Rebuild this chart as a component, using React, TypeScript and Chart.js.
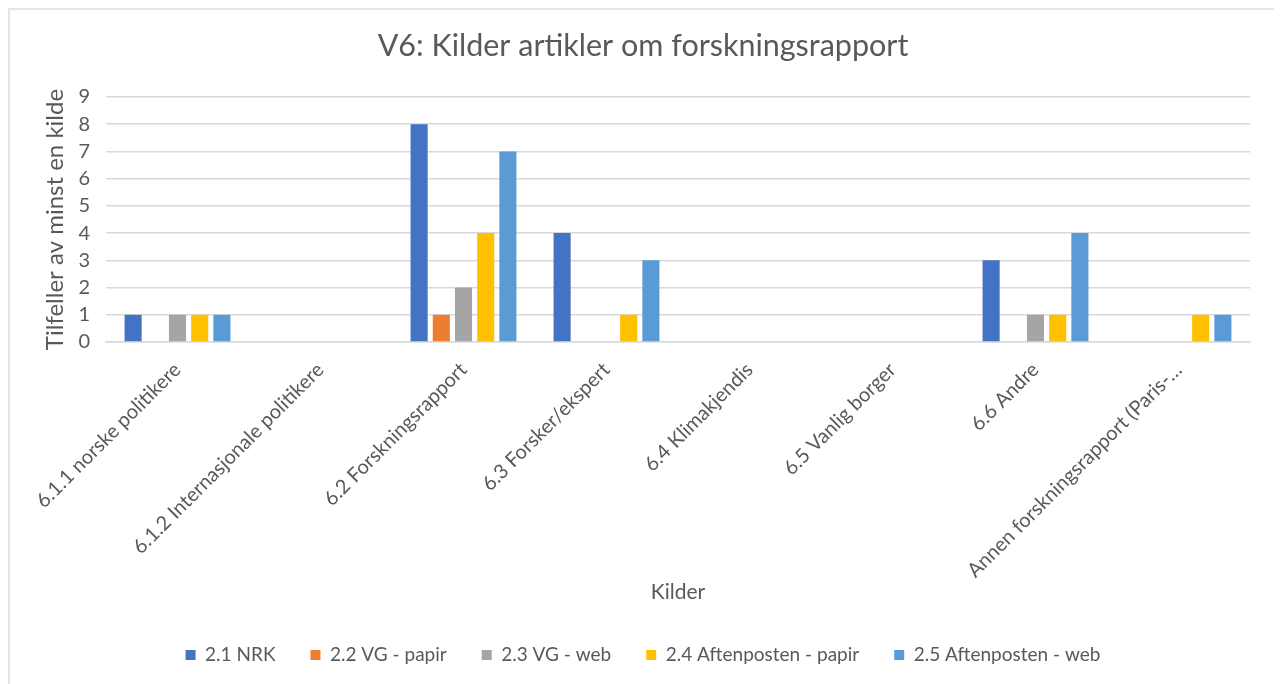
import React, { useEffect, useRef } from "react";
import { Chart, registerables } from "chart.js";

Chart.register(...registerables);

const categories = [
  "6.1.1 norske politikere",
  "6.1.2 Internasjonale politikere",
  "6.2 Forskningsrapport",
  "6.3 Forsker/ekspert",
  "6.4 Klimakjendis",
  "6.5 Vanlig borger",
  "6.6 Andre",
  "Annen forskningsrapport (Paris-…",
];

const seriesNames = [
  "2.1 NRK",
  "2.2 VG - papir",
  "2.3 VG - web",
  "2.4 Aftenposten - papir",
  "2.5 Aftenposten - web",
];

const nrk = [1, 0, 8, 4, 0, 0, 3, 0];
const vgPapir = [0, 0, 1, 0, 0, 0, 0, 0];
const vgWeb = [1, 0, 2, 0, 0, 0, 1, 0];
const apPapir = [1, 0, 4, 1, 0, 0, 1, 1];
const apWeb = [1, 0, 7, 3, 0, 0, 4, 1];

const colors = ["#4472C4", "#ED7D31", "#A5A5A5", "#FFC000", "#5B9BD5"];

const chartTitle = "V6: Kilder artikler om forskningsrapport";
const xTitle = "Kilder";
const yTitle = "Tilfeller av minst en kilde";

const FONT = "Lato, 'Open Sans', sans-serif";
const TEXT = "#595959";

export default function App() {
  const ref = useRef<HTMLCanvasElement | null>(null);

  useEffect(() => {
    if (!ref.current) return;
    const all = [nrk, vgPapir, vgWeb, apPapir, apWeb];
    const chart = new Chart(ref.current, {
      type: "bar",
      data: {
        labels: categories,
        datasets: all.map((d, i) => ({
          label: seriesNames[i],
          data: d,
          backgroundColor: colors[i],
          borderWidth: 0,
          categoryPercentage: 0.776,
          barPercentage: 0.77,
        })),
      },
      options: {
        animation: false,
        responsive: false,
        maintainAspectRatio: false,
        layout: { padding: { left: 0, right: 0, top: 0, bottom: 9.5 } },
        plugins: {
          title: {
            display: true,
            text: chartTitle,
            color: TEXT,
            font: { family: FONT, size: 30.5, weight: "normal", lineHeight: 1.2 },
            padding: { top: 17.7, bottom: 32.7 },
          },
          legend: {
            position: "bottom",
            labels: {
              color: TEXT,
              font: { family: FONT, size: 19 },
              boxWidth: 10,
              boxHeight: 10,
              padding: 35,
            },
          },
          tooltip: { enabled: false },
        },
        scales: {
          x: {
            grid: { display: false },
            border: { display: true, color: "#d9d9d9", width: 1.5 },
            ticks: {
              color: TEXT,
              font: { family: FONT, size: 20 },
              minRotation: 45,
              maxRotation: 45,
              autoSkip: false,
              padding: 8,
            },
            title: {
              display: true,
              text: xTitle,
              color: TEXT,
              font: { family: FONT, size: 21, lineHeight: 1.2 },
              padding: { top: 0, bottom: 6 },
            },
            afterFit: (s: any) => {
              s.height = 268.5;
              s.paddingLeft = 0;
              s.paddingRight = 26;
            },
          },
          y: {
            min: 0,
            max: 9,
            ticks: {
              stepSize: 1,
              color: TEXT,
              font: { family: FONT, size: 20 },
              padding: 16,
            },
            grid: { color: "#d9d9d9", lineWidth: 1.5, drawTicks: false },
            border: { display: false },
            title: {
              display: true,
              text: yTitle,
              color: TEXT,
              font: { family: FONT, size: 24, lineHeight: 1.2 },
              padding: { top: 31, bottom: 0 },
            },
            afterFit: (s: any) => {
              s.width = 96;
            },
          },
        },
      },
    });
    return () => chart.destroy();
  }, []);

  return (
    <div
      style={{
        width: 1266,
        height: 700,
        border: "2px solid #e4e4e4",
        background: "#fff",
        overflow: "hidden",
      }}
    >
      <canvas ref={ref} width={1266} height={674} style={{ display: "block" }} />
    </div>
  );
}
